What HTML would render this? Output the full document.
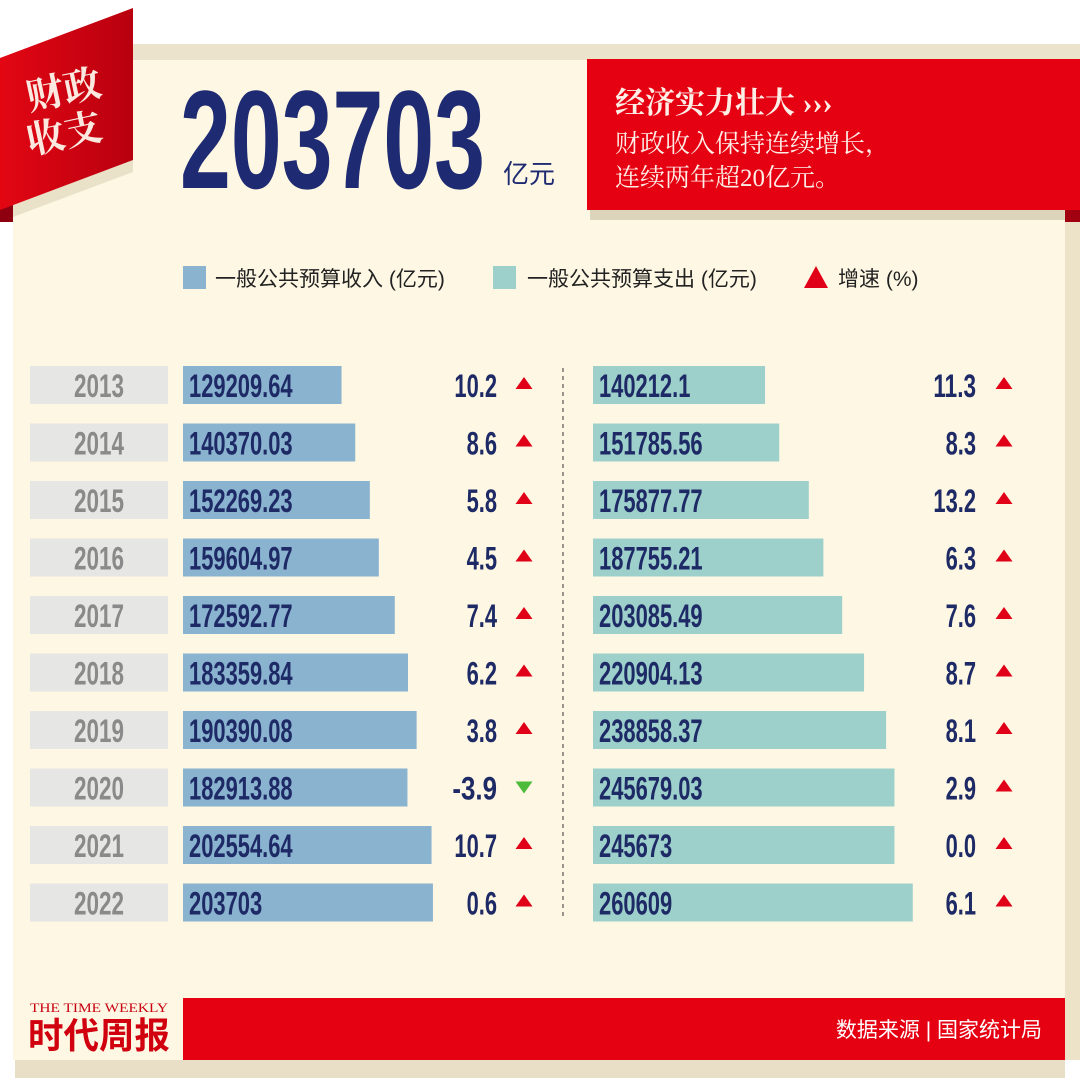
<!DOCTYPE html>
<html><head><meta charset="utf-8"><style>
html,body{margin:0;padding:0;background:#fff;}
svg{display:block;}
.cn{font-family:"Liberation Sans","Noto Sans CJK SC",sans-serif;}
.sf{font-family:"Liberation Serif","Noto Serif CJK SC",serif;}
.nm{font-family:"Liberation Sans Narrow","Liberation Sans",sans-serif;font-weight:bold;}
</style></head><body>
<svg id="chart" width="1080" height="1084" viewBox="0 0 1080 1084" xmlns="http://www.w3.org/2000/svg">
  <rect x="15" y="1058" width="1050" height="20" fill="#e8dfc6"/>
  <rect x="133" y="44" width="947" height="18" fill="#ebe3cb"/>
  <rect x="13" y="60" width="1052" height="1000" fill="#fdf7e3"/>
  <rect x="1065" y="60" width="15" height="1000" fill="#ece3c9"/>
  <polygon points="0,200 13,200 13,222 0,222" fill="#8e0010"/>
  <polygon points="13,205 133,160 133,172 13,217" fill="#e9e1c8"/>
  <defs><linearGradient id="rg" x1="0" y1="0" x2="1" y2="0"><stop offset="0" stop-color="#e30613"/><stop offset="1" stop-color="#b8000f"/></linearGradient></defs>
  <polygon points="0,58 133,8 133,160 0,210" fill="url(#rg)"/>
  <text x="30" y="102" class="sf" font-size="38" font-weight="bold" fill="#fbe9e0" transform="rotate(-12 70 110)">财政</text>
  <text x="30" y="146" class="sf" font-size="38" font-weight="bold" fill="#fbe9e0" transform="rotate(-12 70 150)">收支</text>
  <text x="180" y="188" class="nm" font-size="140" fill="#1e2a72" textLength="305" lengthAdjust="spacingAndGlyphs">203703</text>
  <text x="503" y="183" class="cn" font-size="26" fill="#1e2a72">亿元</text>
  <rect x="590" y="208" width="475" height="12" fill="#ddd4bc"/>
  <rect x="587" y="59" width="493" height="151" fill="#e50012"/>
  <rect x="1065" y="210" width="15" height="12" fill="#a00010"/>
  <text x="615" y="113" class="sf" font-size="30" font-weight="bold" fill="#fdeee6">经济实力壮大 ›››</text>
  <text x="615" y="152" class="sf" font-size="25" fill="#fdeee6">财政收入保持连续增长，</text>
  <text x="615" y="186" class="sf" font-size="25" fill="#fdeee6">连续两年超20亿元。</text>
  <rect x="183" y="266" width="23" height="23" fill="#8ab3d0"/>
  <text x="215" y="286" class="cn" font-size="21" fill="#222">一般公共预算收入 (亿元)</text>
  <rect x="493" y="266" width="23" height="23" fill="#9dd0cb"/>
  <text x="527" y="286" class="cn" font-size="21" fill="#222">一般公共预算支出 (亿元)</text>
  <polygon points="816,266 828,288 804,288" fill="#e00018"/>
  <text x="838" y="286" class="cn" font-size="21" fill="#222">增速 (%)</text>
  <line x1="563" y1="368" x2="563" y2="920" stroke="#555" stroke-width="1.2" stroke-dasharray="4,4"/>
  <g id="rows"></g>
  <rect x="183" y="998" width="882" height="62" fill="#e50012"/>
  <text x="30" y="1012" class="sf" font-size="13" fill="#c8000f" textLength="138" lengthAdjust="spacingAndGlyphs">THE TIME WEEKLY</text>
  <text x="28" y="1048" class="cn" font-size="36" font-weight="bold" fill="#d0000f" textLength="142" lengthAdjust="spacingAndGlyphs">时代周报</text>
  <text x="1042" y="1037" text-anchor="end" class="cn" font-size="21" fill="#fff">数据来源 | 国家统计局</text>
</svg>
<script>
const years = ["2013","2014","2015","2016","2017","2018","2019","2020","2021","2022"];
const incomeLabels = ["129209.64","140370.03","152269.23","159604.97","172592.77","183359.84","190390.08","182913.88","202554.64","203703"];
const expenseLabels = ["140212.1","151785.56","175877.77","187755.21","203085.49","220904.13","238858.37","245679.03","245673","260609"];
const incomeGrowth = [10.2,8.6,5.8,4.5,7.4,6.2,3.8,-3.9,10.7,0.6];
const expenseGrowth = [11.3,8.3,13.2,6.3,7.6,8.7,8.1,2.9,0.0,6.1];

const NS = "http://www.w3.org/2000/svg";
const g = document.getElementById('rows');
const xScale = v => v * 0.001227;
const yRow = i => 366 + i * 57.5;
function el(tag, attrs, text) {
  const e = document.createElementNS(NS, tag);
  for (const k in attrs) e.setAttribute(k, attrs[k]);
  if (text !== undefined) e.textContent = text;
  g.appendChild(e);
  return e;
}
function tri(cx, y, up) {
  const pts = up ? `${cx},${y-7} ${cx+8.5},${y+5} ${cx-8.5},${y+5}` : `${cx-8.5},${y-5} ${cx+8.5},${y-5} ${cx},${y+7}`;
  return el('polygon', {points: pts, fill: up ? '#e00018' : '#4cbb3a'});
}
function numText(x, y, s, anchor) {
  const w = s.replace(/\./g, '').length * 12.2 + (s.match(/\./g) || []).length * 6 + (s.match(/-/g)||[]).length*2;
  return el('text', {x: x, y: y, 'class': 'nm', 'font-size': 32, fill: '#1e2a66', 'text-anchor': anchor || 'start', textLength: w, lengthAdjust: 'spacingAndGlyphs'}, s);
}
years.forEach((yr, i) => {
  const y = yRow(i);
  const cy = y + 19;
  const box = el('rect', {x: 30, y: y, width: 138, height: 38, fill: '#e6e6e4'});
  
  
  const yt = el('text', {x: 99, y: cy + 12, 'class': 'nm', 'font-size': 32, fill: '#8a8a8a', 'text-anchor': 'middle', textLength: 50, lengthAdjust: 'spacingAndGlyphs'}, yr);
  
  

  const iv = parseFloat(incomeLabels[i]);
  const b1 = el('rect', {x: 183, y: y, width: xScale(iv), height: 38, fill: '#8ab3d0'});
  
  
  const t1 = numText(189, cy + 12, incomeLabels[i]);
  
  
  const g1 = numText(497, cy + 12, incomeGrowth[i].toFixed(1), 'end');
  
  
  const a1 = tri(524, cy - 1, incomeGrowth[i] >= 0);
  
  

  const ev = parseFloat(expenseLabels[i]);
  const b2 = el('rect', {x: 593, y: y, width: xScale(ev), height: 38, fill: '#9dd0cb'});
  
  
  const t2 = numText(599, cy + 12, expenseLabels[i]);
  
  
  const g2 = numText(976, cy + 12, expenseGrowth[i].toFixed(1), 'end');
  
  
  const a2 = tri(1004, cy - 1, expenseGrowth[i] >= 0);
  
  
});
</script>
</body></html>
